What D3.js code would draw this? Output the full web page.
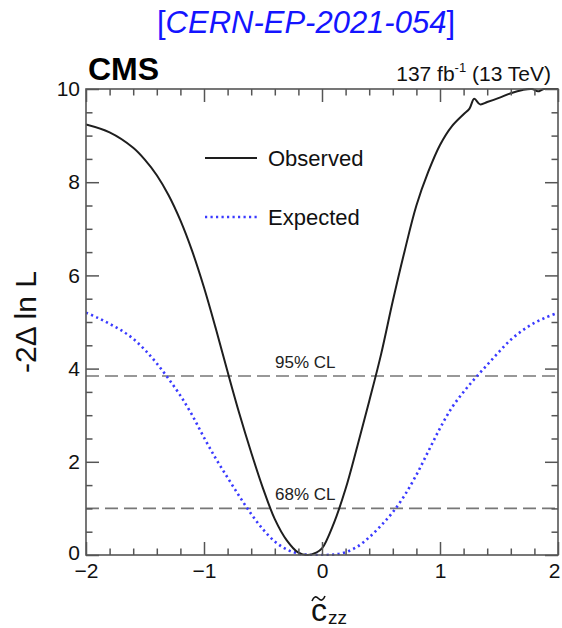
<!DOCTYPE html>
<html>
<head>
<meta charset="utf-8">
<script src="https://cdn.jsdelivr.net/npm/d3@7"></script>
<style>
  html, body { margin: 0; padding: 0; background: #fff; }
  svg { display: block; font-family: "Liberation Sans", Arial, Helvetica, sans-serif; }
</style>
</head>
<body>
<svg id="chart" width="562" height="628"></svg>
<script>
// Likelihood scan of c~_zz: observed and expected -2 Δ ln L
const obsX = [-2.0, -1.8, -1.6, -1.5, -1.4, -1.3, -1.2, -1.1, -1.0, -0.9, -0.8, -0.7, -0.6, -0.5, -0.4, -0.3, -0.2, -0.12, -0.05, 0.0, 0.1, 0.2, 0.3, 0.4, 0.5, 0.6, 0.7, 0.8, 0.9, 1.0, 1.1, 1.2, 1.25, 1.29, 1.34, 1.4, 1.5, 1.6, 1.7, 1.78, 1.83, 1.88, 2.0];
const obsY = [9.24, 9.07, 8.74, 8.48, 8.15, 7.72, 7.18, 6.52, 5.74, 4.86, 3.93, 3.03, 2.20, 1.43, 0.77, 0.32, 0.05, 0.0, 0.05, 0.14, 0.68, 1.42, 2.34, 3.30, 4.30, 5.45, 6.52, 7.50, 8.22, 8.80, 9.20, 9.46, 9.58, 9.79, 9.67, 9.72, 9.81, 9.91, 9.98, 10.0, 9.95, 10.0, 10.0];

const expX = [-2.0, -1.9, -1.8, -1.7, -1.6, -1.5, -1.4, -1.3, -1.2, -1.1, -1.0, -0.9, -0.8, -0.7, -0.6, -0.5, -0.4, -0.3, -0.2, -0.1, 0.0, 0.1, 0.2, 0.3, 0.4, 0.5, 0.6, 0.7, 0.8, 0.9, 1.0, 1.1, 1.2, 1.3, 1.4, 1.5, 1.6, 1.7, 1.8, 1.9, 2.0];
const expY = [5.20, 5.09, 4.96, 4.82, 4.64, 4.40, 4.11, 3.78, 3.42, 3.00, 2.52, 2.07, 1.66, 1.26, 0.88, 0.55, 0.29, 0.12, 0.03, 0.0, 0.0, 0.01, 0.06, 0.18, 0.38, 0.63, 0.92, 1.28, 1.72, 2.22, 2.72, 3.16, 3.50, 3.80, 4.08, 4.36, 4.62, 4.82, 4.98, 5.10, 5.20];

const clValues = [1, 3.84];
const clLabels = ["68% CL", "95% CL"];

const xTicks = [-2, -1, 0, 1, 2];
const xTickLabels = ["\u22122", "\u22121", "0", "1", "2"];
const yTicks = [0, 2, 4, 6, 8, 10];
const yTickLabels = ["0", "2", "4", "6", "8", "10"];

const legendNames = ["Observed", "Expected"];

const W = 562, H = 628;
const m = { left: 86, right: 4, top: 89, bottom: 73 };
const x0 = m.left, x1 = W - m.right, y0 = H - m.bottom, y1 = m.top;

const svg = d3.select("#chart");
const x = d3.scaleLinear().domain([-2, 2]).range([x0, x1]);
const y = d3.scaleLinear().domain([0, 10]).range([y0, y1]);

const frameColor = "#555";
const obsColor = "#1e1e1e";
const expColor = "#3a3aff";
const tickFont = 21;

// Title
const title = svg.append("text")
  .attr("x", 306).attr("y", 33)
  .attr("text-anchor", "middle")
  .attr("font-size", 31)
  .attr("fill", "#1414ff");
title.append("tspan").text("[");
title.append("tspan").attr("font-style", "italic").text("CERN-EP-2021-054");
title.append("tspan").text("]");

// CMS label and luminosity
svg.append("text").attr("x", 88).attr("y", 80)
  .attr("font-size", 32).attr("font-weight", "bold").attr("fill", "#000").text("CMS");

const lumi = svg.append("text").attr("x", 551).attr("y", 81)
  .attr("text-anchor", "end").attr("font-size", 21).attr("fill", "#111");
lumi.append("tspan").text("137 fb");
lumi.append("tspan").attr("font-size", 13).attr("dy", -9).text("-1");
lumi.append("tspan").attr("dy", 9).text(" (13 TeV)");

// Clip region for curves
svg.append("clipPath").attr("id", "plotclip")
  .append("rect").attr("x", x0).attr("y", y1 - 1).attr("width", x1 - x0).attr("height", y0 - y1 + 2);

// CL reference lines
const cl = svg.append("g");
clValues.forEach((v, i) => {
  cl.append("line")
    .attr("x1", x0).attr("x2", x1)
    .attr("y1", y(v)).attr("y2", y(v))
    .attr("stroke", "#777").attr("stroke-width", 1.6)
    .attr("stroke-dasharray", "13,6");
  cl.append("text")
    .attr("x", 275).attr("y", y(v) - 8)
    .attr("font-size", 17).attr("fill", "#222")
    .text(clLabels[i]);
});

// Curves
const line = d3.line().x(d => x(d[0])).y(d => y(d[1])).curve(d3.curveCatmullRom.alpha(0.5));
const plot = svg.append("g").attr("clip-path", "url(#plotclip)");

plot.append("path")
  .datum(expX.map((v, i) => [v, expY[i]]))
  .attr("d", line)
  .attr("fill", "none").attr("stroke", expColor)
  .attr("stroke-width", 2.6).attr("stroke-dasharray", "2.2,3.3");

plot.append("path")
  .datum(obsX.map((v, i) => [v, obsY[i]]))
  .attr("d", line)
  .attr("fill", "none").attr("stroke", obsColor)
  .attr("stroke-width", 2);

// Axes: major and minor ticks on all four sides, pointing inward
const majorLen = 13, minorLen = 6.5;
const xMinor = d3.range(-2, 2.0001, 0.2).filter(v => Math.abs(v - Math.round(v)) > 1e-6);
const yMinor = d3.range(0, 10.0001, 0.5).filter(v => Math.abs(v / 2 - Math.round(v / 2)) > 1e-6);

function styleAxis(g) {
  g.select(".domain").remove();
  g.selectAll(".tick line").attr("stroke", frameColor).attr("stroke-width", 1.5);
}

// bottom
svg.append("g").attr("transform", `translate(0,${y0})`)
  .call(d3.axisBottom(x).tickValues(xTicks).tickSize(-majorLen).tickPadding(8)
    .tickFormat((d, i) => xTickLabels[i]))
  .call(styleAxis)
  .call(g => g.selectAll("text").attr("font-size", tickFont).attr("fill", "#111")
    .attr("font-family", "Liberation Sans, Arial, sans-serif")
    .attr("dx", d => d === 2 ? -4 : 0));
svg.append("g").attr("transform", `translate(0,${y0})`)
  .call(d3.axisBottom(x).tickValues(xMinor).tickSize(-minorLen).tickFormat(""))
  .call(styleAxis);
// top
svg.append("g").attr("transform", `translate(0,${y1})`)
  .call(d3.axisTop(x).tickValues(xTicks).tickSize(-majorLen).tickFormat(""))
  .call(styleAxis);
svg.append("g").attr("transform", `translate(0,${y1})`)
  .call(d3.axisTop(x).tickValues(xMinor).tickSize(-minorLen).tickFormat(""))
  .call(styleAxis);
// left
svg.append("g").attr("transform", `translate(${x0},0)`)
  .call(d3.axisLeft(y).tickValues(yTicks).tickSize(-majorLen).tickPadding(6)
    .tickFormat((d, i) => yTickLabels[i]))
  .call(styleAxis)
  .call(g => g.selectAll("text").attr("font-size", tickFont).attr("fill", "#111")
    .attr("font-family", "Liberation Sans, Arial, sans-serif")
    .attr("dy", d => d === 0 ? "0.2em" : "0.32em"));
svg.append("g").attr("transform", `translate(${x0},0)`)
  .call(d3.axisLeft(y).tickValues(yMinor).tickSize(-minorLen).tickFormat(""))
  .call(styleAxis);
// right
svg.append("g").attr("transform", `translate(${x1},0)`)
  .call(d3.axisRight(y).tickValues(yTicks).tickSize(-majorLen).tickFormat(""))
  .call(styleAxis);
svg.append("g").attr("transform", `translate(${x1},0)`)
  .call(d3.axisRight(y).tickValues(yMinor).tickSize(-minorLen).tickFormat(""))
  .call(styleAxis);

// Frame
svg.append("rect")
  .attr("x", x0).attr("y", y1).attr("width", x1 - x0).attr("height", y0 - y1)
  .attr("fill", "none").attr("stroke", frameColor).attr("stroke-width", 1.6);

// Axis titles
svg.append("text")
  .attr("transform", `translate(36,${(y0 + y1) / 2}) rotate(-90)`)
  .attr("text-anchor", "middle").attr("font-size", 30).attr("fill", "#111")
  .text("-2\u0394 ln L");

const xt = svg.append("g").attr("transform", `translate(${x(0)},0)`);
xt.append("text").attr("x", -11).attr("y", 621).attr("font-size", 32).attr("fill", "#111").text("c");
// tilde accent over the c
xt.append("path")
  .attr("d", "M-10,601 C-8,596 -6,596 -3.5,598.5 S1,601 3,596")
  .attr("fill", "none").attr("stroke", "#111").attr("stroke-width", 1.6);
xt.append("text").attr("x", 6).attr("y", 624).attr("font-size", 19).attr("fill", "#111").text("zz");

// Legend
const legend = svg.append("g");
const legY = [158, 217];
const legStroke = [
  { color: obsColor, width: 2, dash: null },
  { color: expColor, width: 2.6, dash: "2.2,3.3" }
];
legendNames.forEach((name, i) => {
  legend.append("line")
    .attr("x1", 205).attr("x2", 257).attr("y1", legY[i]).attr("y2", legY[i])
    .attr("stroke", legStroke[i].color).attr("stroke-width", legStroke[i].width)
    .attr("stroke-dasharray", legStroke[i].dash);
  legend.append("text")
    .attr("x", 268).attr("y", legY[i] + 8)
    .attr("font-size", 22).attr("fill", "#111")
    .text(name);
});
</script>
</body>
</html>
